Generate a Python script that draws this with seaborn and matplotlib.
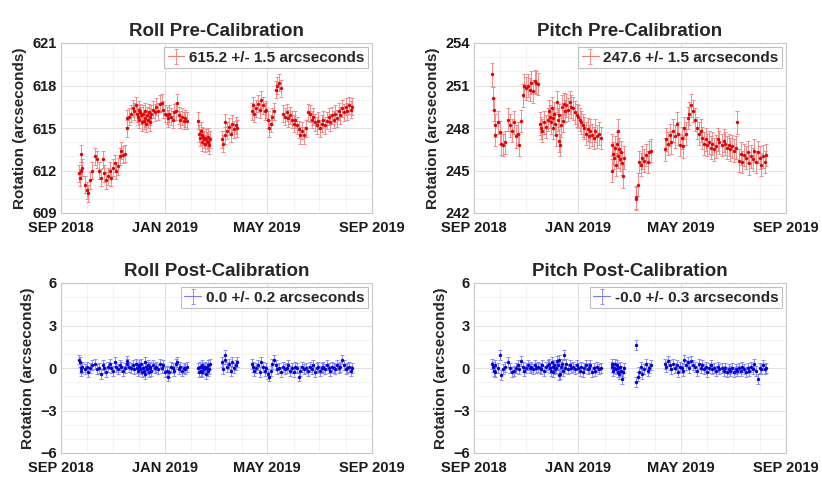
import numpy as np
import pandas as pd
import matplotlib
matplotlib.use("Agg")
import matplotlib.pyplot as plt
import matplotlib.dates as mdates
from matplotlib.lines import Line2D
from matplotlib.ticker import FixedLocator, FuncFormatter, MultipleLocator
import seaborn as sns

# ---------------- data (day offsets from 2018-09-01) ----------------
days = [21, 22, 23, 24, 25, 28, 30, 32, 34, 36, 40, 42,
        45, 47, 49, 51, 53, 55, 57, 59, 61, 63, 65, 67, 69, 71, 73, 75,
        77, 78, 80, 82, 84, 86, 88, 89, 90, 91, 92, 93, 94, 95, 96, 97, 98, 99,
        100, 101, 102, 103, 104, 105, 106, 108, 110, 112, 114, 116, 118, 120,
        122, 124, 125, 127, 129, 131, 133, 135, 136, 138, 140, 142, 144, 146, 148,
        161, 162, 163, 164, 165, 166, 167, 168, 169, 170, 171, 172, 173, 174, 175,
        189, 190, 192, 193, 195, 197, 199, 201, 203, 205, 207,
        224, 225, 227, 229, 231, 233, 235, 237, 239, 241, 243, 244, 246, 248, 250,
        252, 254, 256, 258, 261, 263, 265, 267, 269, 271, 273, 275, 277, 279, 281,
        283, 285, 287, 290, 292, 294, 296, 298, 300, 302, 304, 306, 308, 310, 312,
        314, 316, 318, 320, 322, 324, 326, 328, 330, 332, 334, 336, 338, 340, 342]

roll_pre = [611.8, 611.5, 612.0, 613.2, 612.2, 611.0, 610.6, 610.4, 611.3, 612.0, 613.0, 612.8,
            612.0, 611.5, 612.8, 611.8, 611.3, 611.6, 612.0, 611.5, 612.2, 612.5, 612.0, 612.3, 613.0, 613.4, 613.1, 613.2,
            615.0, 615.7, 615.8, 616.0, 616.4, 616.2, 616.6, 616.0, 615.8, 616.3, 615.6, 616.1, 615.9, 615.4, 616.0, 615.5, 616.2, 615.7,
            615.3, 615.9, 615.6, 616.1, 615.4, 615.8, 616.0, 616.3, 616.1, 616.5, 616.2, 616.7, 616.8, 616.3,
            616.0, 615.9, 615.7, 616.0, 615.8, 615.6, 616.1, 616.2, 616.8, 615.9, 615.6, 615.8, 615.5, 615.7, 615.5,
            615.5, 614.6, 614.3, 614.8, 614.5, 614.0, 614.4, 614.2, 613.9, 614.3, 614.1, 614.0, 614.4, 613.8, 614.2,
            614.2, 613.9, 614.5, 615.4, 614.8, 615.1, 614.6, 615.3, 614.9, 615.2, 615.0,
            616.2, 616.6, 616.0, 616.4, 616.7, 616.3, 617.0, 616.6, 616.2, 616.3, 615.6, 615.0, 615.3, 615.8, 616.2,
            617.7, 618.0, 618.2, 617.8, 616.0, 615.8, 616.1, 615.7, 615.9, 615.6, 615.3, 615.6, 615.2, 614.9, 614.5,
            614.8, 614.5, 615.0, 616.1, 616.0, 615.6, 615.8, 615.4, 615.2, 615.5, 615.0, 615.3, 615.6, 615.2, 615.5,
            615.8, 615.4, 615.9, 615.6, 616.0, 615.7, 616.2, 615.9, 616.4, 616.1, 616.5, 616.2, 616.6, 616.3, 616.5]

pitch_pre = [251.8, 250.1, 249.3, 248.2, 247.5, 248.4, 247.7, 246.9, 246.8, 247.0, 248.6, 248.2,
             247.8, 248.4, 247.4, 247.6, 246.8, 248.5, 250.3, 251.0, 250.8, 251.0, 250.7, 251.2, 250.6, 251.3, 251.2, 251.1,
             248.3, 248.0, 247.8, 248.4, 248.1, 248.6, 249.2, 248.8, 248.4, 249.4, 248.0, 248.7, 249.0, 248.3, 247.5, 249.8, 248.6, 247.1,
             248.9, 246.8, 248.2, 249.5, 248.5, 249.7, 249.2, 249.6, 249.3, 249.8, 249.5, 249.4, 249.1, 248.9,
             248.8, 248.6, 248.4, 248.2, 248.0, 247.6, 247.9, 247.4, 247.8, 247.5, 247.3, 247.8, 247.4, 247.6, 247.3,
             246.8, 245.0, 246.2, 245.9, 246.6, 245.4, 246.9, 246.0, 247.8, 246.5, 245.8, 246.3, 245.5, 244.6, 245.9,
             243.1, 243.0, 244.0, 245.6, 245.4, 245.9, 245.7, 246.1, 245.6, 246.3, 246.4,
             246.5, 247.2, 246.9, 247.5, 247.0, 247.8, 247.4, 248.3, 247.6, 246.8, 247.3, 246.7, 248.0, 247.6, 248.7,
             249.0, 249.6, 249.2, 248.6, 248.0, 247.6, 247.8, 247.3, 246.9, 247.2, 246.8, 247.0, 246.6, 246.9, 246.5,
             246.7, 247.2, 247.0, 246.8, 247.1, 246.9, 246.6, 246.8, 246.5, 246.7, 246.4, 246.6, 248.4, 245.7, 246.2,
             245.6, 246.1, 245.9, 246.3, 245.5, 246.0, 245.8, 246.4, 245.6, 246.3, 245.9, 245.4, 246.0, 245.6, 246.1]

roll_post = [0.6, 0.4, 0.0, -0.2, 0.1, -0.1, 0.1, -0.3, 0.0, 0.2, 0.3, -0.1,
             0.0, -0.4, 0.2, 0.0, -0.3, 0.1, 0.3, 0.0, -0.2, 0.4, 0.1, -0.1, 0.2, 0.1, -0.2, 0.0,
             0.5, 0.3, 0.1, 0.0, 0.2, -0.1, 0.3, 0.0, -0.2, 0.1, 0.2, -0.1, 0.3, -0.3, 0.0, -0.2, 0.4, -0.4,
             0.1, -0.1, 0.2, -0.3, 0.0, 0.1, -0.2, 0.2, 0.0, 0.1, -0.1, 0.3, 0.0, 0.2,
             -0.3, -0.2, -0.6, -0.3, 0.1, 0.0, -0.2, 0.3, 0.4, -0.1, 0.1, -0.2, 0.0, -0.1, 0.1,
             0.0, -0.3, 0.1, -0.2, 0.2, -0.3, 0.0, -0.1, 0.1, -0.4, 0.0, -0.2, 0.2, -0.1, 0.3,
             0.4, -0.1, 0.9, 0.6, 0.1, 0.3, -0.2, 0.4, 0.0, 0.2, 0.4,
             0.3, 0.1, -0.2, 0.0, 0.2, -0.3, 0.4, 0.1, -0.2, 0.0, -0.4, -0.6, -0.2, 0.3, 0.6,
             0.2, -0.1, 0.0, -0.3, 0.1, -0.1, 0.0, 0.2, -0.2, 0.0, -0.3, 0.1, 0.0, -0.6, -0.2,
             0.1, -0.1, 0.0, -0.2, 0.1, -0.1, 0.2, -0.3, 0.0, 0.1, -0.2, 0.0, 0.1, -0.1, 0.2,
             0.0, -0.2, 0.1, 0.0, -0.1, 0.2, 0.0, 0.1, 0.6, 0.2, -0.1, 0.0, 0.1, -0.2, 0.0]

pitch_post = [0.3, 0.1, -0.2, 0.2, -0.3, 0.0, 0.9, -0.5, -0.1, 0.1, 0.4, 0.0,
              -0.3, -0.2, 0.0, 0.2, -0.1, 0.5, 0.1, -0.2, 0.0, 0.2, 0.0, 0.1, -0.1, 0.2, 0.0, 0.1,
              0.0, -0.1, 0.2, -0.2, 0.1, 0.2, 0.3, 0.0, -0.2, 0.4, 0.1, -0.3, 0.2, -0.1, 0.0, 0.5, 0.2, -0.5,
              0.6, -0.4, 0.1, 0.3, -0.2, 0.9, 0.0, 0.3, -0.1, 0.2, 0.0, 0.1, -0.1, 0.2,
              0.0, -0.2, 0.1, -0.3, 0.0, 0.2, -0.1, 0.0, 0.2, -0.3, 0.0, -0.2, 0.1, -0.1, 0.0,
              0.3, 0.1, -0.2, 0.0, 0.3, -0.1, 0.2, -0.3, 0.0, -0.4, 0.1, -0.2, -0.75, -0.3, 0.0,
              1.6, -1.0, -0.6, -0.3, 0.1, -0.4, -0.1, 0.3, -0.2, 0.0, 0.2,
              0.3, 0.1, 0.5, 0.2, -0.1, 0.3, 0.0, 0.2, -0.3, 0.1, 0.0, -0.2, 0.6, 0.2, 0.4,
              0.0, 0.5, 0.2, 0.1, -0.2, 0.3, 0.0, 0.2, -0.1, 0.1, -0.3, 0.0, 0.2, -0.1, 0.0,
              -0.2, 0.1, -0.1, 0.0, -0.2, 0.0, -0.3, -0.1, -0.2, 0.0, -0.3, -0.1, -0.2, 0.0, -0.2,
              0.1, -0.1, -0.3, 0.0, -0.2, 0.1, -0.1, 0.3, -0.2, -0.8, 0.0, -0.1, 0.2, -0.1, 0.0]

roll_pre_err = 0.6
pitch_pre_err = 0.8
roll_post_err = 0.35
pitch_post_err = 0.35

panels = [
    ("Roll Pre-Calibration", roll_pre, roll_pre_err, "615.2 +/- 1.5 arcseconds", [609, 612, 615, 618, 621], "red"),
    ("Pitch Pre-Calibration", pitch_pre, pitch_pre_err, "247.6 +/- 1.5 arcseconds", [242, 245, 248, 251, 254], "red"),
    ("Roll Post-Calibration", roll_post, roll_post_err, "0.0 +/- 0.2 arcseconds", [-6, -3, 0, 3, 6], "blue"),
    ("Pitch Post-Calibration", pitch_post, pitch_post_err, "-0.0 +/- 0.3 arcseconds", [-6, -3, 0, 3, 6], "blue"),
]
x_tick_dates = ["2018-09-01", "2019-01-01", "2019-05-01", "2019-09-01"]

# ---------------- style ----------------
sns.set_theme(style="white")
plt.rcParams["font.family"] = ["Liberation Sans", "DejaVu Sans"]
plt.rcParams["font.weight"] = "bold"

colors = {
    "red": ("#e60000", "#f07a7a"),
    "blue": ("#0000e0", "#7a7af5"),
}

fig = plt.figure(figsize=(8.22, 4.80), dpi=100)
W, H = 822.0, 480.0
boxes = [(61, 43, 372, 213), (474, 43, 786, 213), (61, 283, 372, 453), (474, 283, 786, 453)]

start = pd.Timestamp("2018-09-01")
dates = start + pd.to_timedelta(days, unit="D")

for (title, vals, err, leg, yticks, cname), (l, t, r, b) in zip(panels, boxes):
    ax = fig.add_axes([l / W, 1 - b / H, (r - l) / W, (b - t) / H])
    df = pd.DataFrame({"date": dates, "value": vals})
    dark, light = colors[cname]
    eb = ax.errorbar(df["date"], df["value"], yerr=err, fmt="none", ecolor=light,
                     elinewidth=0.7, capsize=1.6, capthick=0.7, alpha=0.85, zorder=2)
    sns.scatterplot(data=df, x="date", y="value", ax=ax, color=dark, s=6,
                    linewidth=0, zorder=3, legend=False)

    ax.set_xlim(pd.Timestamp(x_tick_dates[0]), pd.Timestamp(x_tick_dates[-1]))
    ax.set_ylim(yticks[0], yticks[-1])
    ax.xaxis.set_major_locator(FixedLocator([mdates.date2num(pd.Timestamp(d)) for d in x_tick_dates]))
    ax.xaxis.set_minor_locator(mdates.MonthLocator())
    ax.xaxis.set_major_formatter(FuncFormatter(lambda v, p: mdates.num2date(v).strftime("%b %Y").upper()))
    ax.set_yticks(yticks)
    ax.yaxis.set_minor_locator(MultipleLocator(1))

    ax.grid(True, which="major", color="#dcdcdc", linewidth=0.6)
    ax.grid(True, which="minor", color="#eeeeee", linewidth=0.5)
    ax.set_axisbelow(True)
    for s in ax.spines.values():
        s.set_color("#c8c8c8")
        s.set_linewidth(0.8)
    ax.tick_params(axis="both", which="both", direction="in", length=0, labelsize=10.5,
                   colors="#1a1a1a")
    ax.tick_params(axis="x", which="major", pad=6)
    ax.tick_params(axis="y", which="major", pad=3)
    for lab in ax.get_xticklabels() + ax.get_yticklabels():
        lab.set_fontweight("bold")

    ax.set_xlabel("")
    ax.set_ylabel("Rotation (arcseconds)", fontsize=11, fontweight="bold", labelpad=4)
    ax.set_title(title, fontsize=13.5, fontweight="bold", pad=5)

    hline = Line2D([], [], color=light, linewidth=0.8)
    lg = ax.legend([(hline, eb)], [leg], loc="upper right",
                   frameon=True, borderpad=0.25, handlelength=1.1, handletextpad=0.3,
                   borderaxespad=0.25, prop={"weight": "bold", "size": 11})
    lg.get_frame().set_edgecolor("#b0b0b0")
    lg.get_frame().set_linewidth(0.8)
    lg.get_frame().set_boxstyle("square", pad=0)

fig.savefig("out.png", dpi=100, facecolor="white")
